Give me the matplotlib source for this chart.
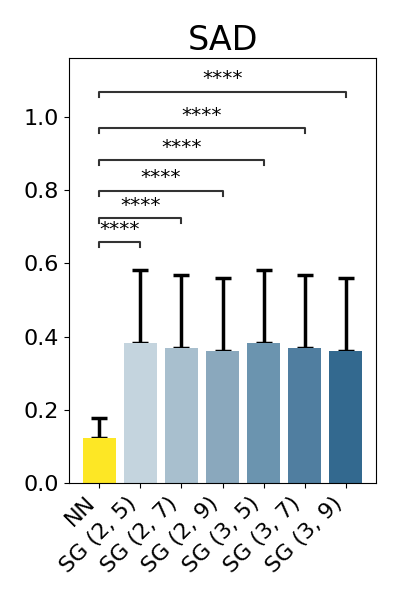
import matplotlib
matplotlib.use("Agg")
import matplotlib.pyplot as plt
import numpy as np

# Values
labels = ["NN", "SG (2, 5)", "SG (2, 7)", "SG (2, 9)", "SG (3, 5)", "SG (3, 7)", "SG (3, 9)"]
means = [0.123, 0.383, 0.369, 0.361, 0.383, 0.369, 0.361]
errs = [0.055, 0.199, 0.199, 0.199, 0.199, 0.199, 0.199]
colors = ["#fde725", "#c4d4de", "#a8bfce", "#8aa8bd", "#6b94af", "#507ea0", "#33698f"]

# significance brackets: (from, to, height, label)
pairs_from = [0, 0, 0, 0, 0, 0]
pairs_to = [1, 2, 3, 4, 5, 6]
bracket_y = [0.658, 0.723, 0.799, 0.882, 0.969, 1.069]
stars = ["****"] * 6

fig = plt.figure(figsize=(4, 6), dpi=100)
ax = fig.add_axes([0.1725, 0.195, 0.7675, 0.7083])

x = np.arange(len(labels))
ax.errorbar(x, means, yerr=[np.zeros(len(errs)), errs], fmt="none",
            ecolor="black", elinewidth=2.5, capsize=6, capthick=2.5, zorder=1)
ax.bar(x, means, width=0.8, color=colors, zorder=2)

tick_h = 0.014
for a, b, y, s in zip(pairs_from, pairs_to, bracket_y, stars):
    ax.plot([a, a, b, b], [y - tick_h, y, y, y - tick_h], color="#333333", lw=1.5, zorder=3)
    ax.text((a + b) / 2, y + 0.009, s, ha="center", va="bottom", fontsize=14.5, zorder=4)

ax.set_ylim(0, 1.161)
ax.set_yticks([0.0, 0.2, 0.4, 0.6, 0.8, 1.0])
ax.set_xticks(x)
ax.set_xticklabels(labels, rotation=45, ha="right")
ax.tick_params(labelsize=16)
ax.set_title("SAD", fontsize=24)

plt.savefig("out.png")
